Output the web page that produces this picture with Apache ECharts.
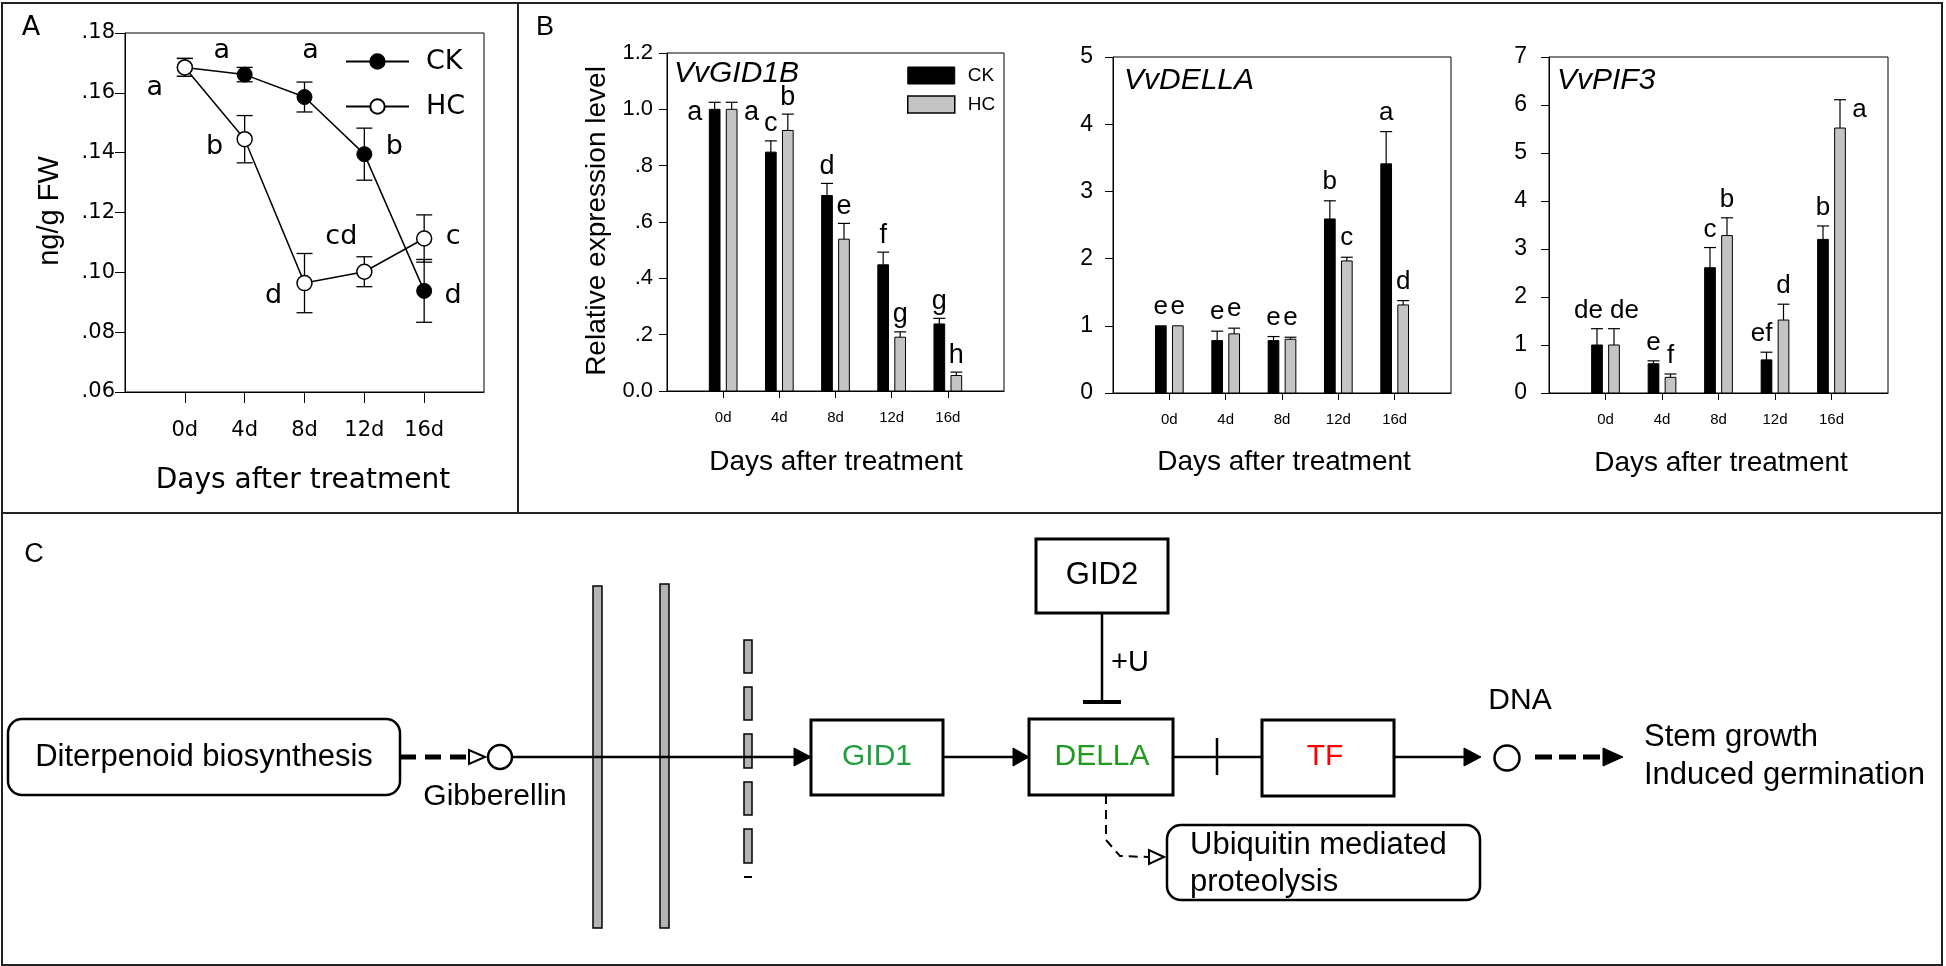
<!DOCTYPE html>
<html><head><meta charset="utf-8">
<script src="https://cdn.jsdelivr.net/npm/echarts@6/dist/echarts.min.js"></script>
<style>html,body{margin:0;padding:0;background:#fff;}#c{width:1946px;height:966px;}</style>
</head><body><div id="c"></div>
<script>
// ---------------- data ----------------
const days = ['0d', '4d', '8d', '12d', '16d'];
const xCats = [''].concat(days, ['']);

// Panel A: GA content (ng/g FW)
const gaCK = [0.1685, 0.1661, 0.1586, 0.1395, 0.0938];
const gaCKErr = [0.003, 0.0024, 0.005, 0.0087, 0.0105];
const gaCKLetters = ['', 'a', 'a', 'b', 'd'];
const gaHC = [0.1685, 0.1445, 0.0964, 0.1002, 0.1113];
const gaHCErr = [0.003, 0.0079, 0.0099, 0.005, 0.0079];
const gaHCLetters = ['a', 'b', 'd', 'cd', 'c'];

// Panel B: relative expression
const gid1bCK = [1.0, 0.848, 0.694, 0.448, 0.238];
const gid1bCKErr = [0.025, 0.04, 0.043, 0.045, 0.02];
const gid1bCKLetters = ['a', 'c', 'd', 'f', 'g'];
const gid1bHC = [1.0, 0.925, 0.539, 0.191, 0.055];
const gid1bHCErr = [0.025, 0.058, 0.056, 0.019, 0.012];
const gid1bHCLetters = ['a', 'b', 'e', 'g', 'h'];

const dellaCK = [1.0, 0.78, 0.78, 2.59, 3.41];
const dellaCKErr = [0, 0.14, 0.06, 0.27, 0.48];
const dellaCKLetters = ['e', 'e', 'e', 'b', 'a'];
const dellaHC = [1.0, 0.88, 0.80, 1.965, 1.31];
const dellaHCErr = [0, 0.085, 0.03, 0.055, 0.065];
const dellaHCLetters = ['e', 'e', 'e', 'c', 'd'];

const pif3CK = [1.0, 0.61, 2.61, 0.69, 3.2];
const pif3CKErr = [0.34, 0.06, 0.42, 0.16, 0.28];
const pif3CKLetters = ['de', 'e', 'c', 'ef', 'b'];
const pif3HC = [1.0, 0.326, 3.28, 1.52, 5.52];
const pif3HCErr = [0.34, 0.07, 0.37, 0.33, 0.59];
const pif3HCLetters = ['de', 'f', 'b', 'd', 'a'];

// ---------------- layout / style ----------------
const FA = 'DejaVu Sans';
const FB = '"Liberation Sans", Arial, sans-serif';
// letter offsets (px) relative to the point, panel A
const letterOffCK = [null, [-23, -22], [6, -44], [30, -5], [29, 7]];
const letterOffHC = [[-30, 23], [-30, 10], [-31, 15], [-23, -33], [29, 0]];
// letter placement in panel B
const placeB1CK = ['left', 'top', 'top', 'top', 'top'];
const placeB1HC = ['right', 'top', 'top', 'top', 'top'];
const placeB3CK = ['topl', 'top', 'top', 'topl', 'top'];
const placeB3HC = ['topr', 'top', 'top', 'top', 'right'];

const tickFn = (i) => i >= 1 && i <= 5;

function xAxisCfg(gi, ff, fs, margin, tickLen) {
  return {
    type: 'category', gridIndex: gi, data: xCats, boundaryGap: false,
    axisLine: { show: true, onZero: false, lineStyle: { color: '#000', width: 1 } },
    axisTick: { show: true, interval: tickFn, length: tickLen, lineStyle: { color: '#000', width: 1 } },
    axisLabel: { show: true, interval: tickFn, margin: margin, color: '#000', fontSize: fs, fontFamily: ff },
    splitLine: { show: false }
  };
}
function yAxisCfg(gi, min, max, interval, fmt, ff, fs, margin, tickLen) {
  return {
    type: 'value', gridIndex: gi, min: min, max: max, interval: interval,
    axisLine: { show: true, lineStyle: { color: '#000', width: 1 } },
    axisTick: { show: true, length: tickLen, lineStyle: { color: '#000', width: 1 } },
    axisLabel: { show: true, formatter: fmt, margin: margin, color: '#000', fontSize: fs, fontFamily: ff },
    splitLine: { show: false }
  };
}

function errSeriesA(vals, errs, letters, offs) {
  return {
    type: 'custom', xAxisIndex: 0, yAxisIndex: 0, z: 1, silent: true,
    data: vals.map((v, i) => [i + 1, v, errs[i]]),
    encode: { x: 0, y: 1 },
    renderItem: function (params, api) {
      const x = api.value(0), v = api.value(1), e = api.value(2);
      const hi = api.coord([x, v + e]), lo = api.coord([x, v - e]), pt = api.coord([x, v]);
      const cw = 8, st = { stroke: '#000', lineWidth: 1.3 };
      const ch = [
        { type: 'line', shape: { x1: hi[0], y1: hi[1], x2: lo[0], y2: lo[1] }, style: st },
        { type: 'line', shape: { x1: hi[0] - cw, y1: hi[1], x2: hi[0] + cw, y2: hi[1] }, style: st },
        { type: 'line', shape: { x1: lo[0] - cw, y1: lo[1], x2: lo[0] + cw, y2: lo[1] }, style: st }
      ];
      const o = offs[params.dataIndex];
      if (o && letters[params.dataIndex]) {
        ch.push({ type: 'text', z2: 5, style: { text: letters[params.dataIndex], x: pt[0] + o[0], y: pt[1] + o[1] - 2,
          align: 'center', verticalAlign: 'middle', fontSize: 27, fontFamily: FA, fill: '#000' } });
      }
      return { type: 'group', children: ch };
    }
  };
}

function barSeries(name, gi, vals, errs, letters, side, fill, place, fs, gap) {
  return {
    type: 'custom', name: name, xAxisIndex: gi, yAxisIndex: gi, silent: true,
    itemStyle: { color: fill, borderColor: '#000', borderWidth: 1 },
    data: vals.map((v, i) => [i + 1, v, errs[i]]),
    encode: { x: 0, y: 1 },
    renderItem: function (params, api) {
      const x = api.value(0), v = api.value(1), e = api.value(2);
      const base = api.coord([x, 0]), top = api.coord([x, v]), cap = api.coord([x, v + e]);
      const w = 10.7, cx = base[0] + side * 8.5, cw = 6;
      const st = { stroke: '#000', lineWidth: 1.2 };
      const ch = [{ type: 'rect', shape: { x: cx - w / 2, y: top[1], width: w, height: base[1] - top[1] },
        style: { fill: fill, stroke: '#000', lineWidth: 1 } }];
      if (e > 0) {
        ch.push({ type: 'line', shape: { x1: cx, y1: top[1], x2: cx, y2: cap[1] }, style: st });
        ch.push({ type: 'line', shape: { x1: cx - cw, y1: cap[1], x2: cx + cw, y2: cap[1] }, style: st });
      }
      const p = place ? place[params.dataIndex] : 'top';
      const t = letters[params.dataIndex];
      let ts;
      if (p === 'left') ts = { x: cx - w / 2 - 7, y: cap[1] + 10, align: 'right' };
      else if (p === 'right') ts = { x: cx + w / 2 + 7, y: cap[1] + 10, align: 'left' };
      else if (p === 'topl') ts = { x: cx + 6, y: cap[1] - gap, align: 'right' };
      else if (p === 'topr') ts = { x: cx - 4, y: cap[1] - gap, align: 'left' };
      else ts = { x: cx, y: cap[1] - gap, align: 'center' };
      ch.push({ type: 'text', style: Object.assign(ts, { text: t, verticalAlign: 'middle', fontSize: fs, fontFamily: FB, fill: '#000' }) });
      return { type: 'group', children: ch };
    }
  };
}

// ---------------- graphic helpers ----------------
function T(text, x, y, fs, opt) {
  opt = opt || {};
  return { type: 'text', x: x, y: y, rotation: opt.rot || 0, z: 10,
    style: { text: text, fontSize: fs, fontFamily: opt.ff || FB, fontStyle: opt.italic ? 'italic' : 'normal',
      fill: opt.color || '#000', align: opt.align || 'center', verticalAlign: 'middle' } };
}
function L(x1, y1, x2, y2, lw, dash) {
  return { type: 'line', z: 10, shape: { x1: x1, y1: y1, x2: x2, y2: y2 },
    style: { stroke: '#000', lineWidth: lw || 2.5, lineDash: dash || null } };
}
function R(x, y, w, h, opt) {
  opt = opt || {};
  return { type: 'rect', z: 10, shape: { x: x, y: y, width: w, height: h, r: opt.r || 0 },
    style: { fill: opt.fill || '#fff', stroke: opt.stroke || '#000', lineWidth: opt.lw || 2.5 } };
}
function P(points, fill, lw) {
  return { type: 'polygon', z: 11, shape: { points: points }, style: { fill: fill, stroke: '#000', lineWidth: lw || 1 } };
}
function C(x, y, r) {
  return { type: 'circle', z: 11, shape: { cx: x, cy: y, r: r }, style: { fill: '#fff', stroke: '#000', lineWidth: 2.5 } };
}

const graphics = [
  // frames
  { type: 'rect', z: 20, shape: { x: 2, y: 3, width: 1940, height: 962 }, style: { fill: 'none', stroke: '#222', lineWidth: 2 } },
  { type: 'line', z: 20, shape: { x1: 518, y1: 3, x2: 518, y2: 513 }, style: { stroke: '#222', lineWidth: 2 } },
  { type: 'line', z: 20, shape: { x1: 2, y1: 513, x2: 1942, y2: 513 }, style: { stroke: '#222', lineWidth: 2 } },
  // panel labels
  T('A', 31, 28, 27, { ff: FA }),
  T('B', 545, 28, 27),
  T('C', 34, 555, 27),
  // axis titles
  T('Days after treatment', 303, 481, 28, { ff: FA }),
  T('ng/g FW', 50, 211, 29, { rot: Math.PI / 2 }),
  T('Relative expression level', 597, 221, 28, { rot: Math.PI / 2 }),
  T('Days after treatment', 836, 462, 28),
  T('Days after treatment', 1284, 462, 28),
  T('Days after treatment', 1721, 463, 28),
  // gene titles
  T('VvGID1B', 674, 74, 30, { italic: true, align: 'left' }),
  T('VvDELLA', 1124, 81, 30, { italic: true, align: 'left' }),
  T('VvPIF3', 1557, 81, 30, { italic: true, align: 'left' }),

  // -------- panel C --------
  R(8, 719, 392, 76, { r: 14 }),
  T('Diterpenoid biosynthesis', 204, 757, 31),
  L(400, 757, 468, 757, 5, [16, 9]),
  P([[485, 757], [469, 750], [469, 764]], '#fff', 2),
  C(500, 757, 12),
  T('Gibberellin', 495, 797, 30),
  // membranes
  R(593, 586, 9, 342, { fill: '#b4b4b4', lw: 1.5 }),
  R(660, 584, 9, 344, { fill: '#b4b4b4', lw: 1.5 }),
  R(744, 640, 8, 33, { fill: '#b4b4b4', lw: 1.5 }),
  R(744, 687, 8, 33, { fill: '#b4b4b4', lw: 1.5 }),
  R(744, 734, 8, 34, { fill: '#b4b4b4', lw: 1.5 }),
  R(744, 782, 8, 33, { fill: '#b4b4b4', lw: 1.5 }),
  R(744, 829, 8, 34, { fill: '#b4b4b4', lw: 1.5 }),
  L(744, 877, 752, 877, 2),
  { type: 'line', z: 12, shape: { x1: 512, y1: 757, x2: 797, y2: 757 }, style: { stroke: '#000', lineWidth: 2.5 } },
  P([[811, 757], [794, 748], [794, 766]], '#000', 1),
  // GID1
  R(811, 720, 132, 75, { lw: 3 }),
  T('GID1', 877, 757, 30, { color: '#22a040' }),
  L(943, 757, 1016, 757, 2.5),
  P([[1029, 757], [1013, 748], [1013, 766]], '#000', 1),
  // GID2
  R(1036, 539, 132, 74, { lw: 3 }),
  T('GID2', 1102, 575, 31),
  L(1102, 613, 1102, 702, 2.5),
  L(1083, 702, 1121, 702, 4),
  T('+U', 1130, 663, 29),
  // DELLA
  R(1029, 719, 144, 76, { lw: 3 }),
  T('DELLA', 1102, 757, 30, { color: '#1f9a1f' }),
  L(1173, 757, 1262, 757, 2.5),
  L(1217, 738, 1217, 775, 2.5),
  // TF
  R(1262, 720, 132, 76, { lw: 3 }),
  T('TF', 1325, 757, 30, { color: '#ff0000' }),
  L(1394, 757, 1466, 757, 2.5),
  P([[1481, 757], [1464, 748], [1464, 766]], '#000', 1),
  C(1507, 758, 12.5),
  T('DNA', 1520, 701, 30),
  L(1535, 757, 1604, 757, 5, [17, 7]),
  P([[1623, 757], [1603, 748], [1603, 766]], '#000', 1),
  T('Stem growth', 1644, 737, 31, { align: 'left' }),
  T('Induced germination', 1644, 775, 31, { align: 'left' }),
  // DELLA -> ubiquitin
  { type: 'polyline', z: 10, shape: { points: [[1106, 795], [1106, 840], [1120, 856], [1148, 857]] },
    style: { stroke: '#000', lineWidth: 2, fill: 'none', lineDash: [9, 6] } },
  P([[1164, 857], [1149, 850], [1149, 864]], '#fff', 2),
  R(1167, 825, 313, 75, { r: 14 }),
  T('Ubiquitin mediated', 1190, 845, 31, { align: 'left' }),
  T('proteolysis', 1190, 882, 31, { align: 'left' })
];

const option = {
  animation: false,
  backgroundColor: '#fff',
  grid: [
    { left: 125, top: 33, width: 359, height: 359, show: true, borderColor: '#000', borderWidth: 1, containLabel: false, outerBoundsMode: 'none' },
    { left: 667, top: 53, width: 337, height: 338, show: true, borderColor: '#000', borderWidth: 1, containLabel: false, outerBoundsMode: 'none' },
    { left: 1113, top: 57, width: 338, height: 336, show: true, borderColor: '#000', borderWidth: 1, containLabel: false, outerBoundsMode: 'none' },
    { left: 1549, top: 57, width: 339, height: 336, show: true, borderColor: '#000', borderWidth: 1, containLabel: false, outerBoundsMode: 'none' }
  ],
  xAxis: [
    xAxisCfg(0, FA, 21, 28, 11),
    xAxisCfg(1, FB, 15, 19, 7),
    xAxisCfg(2, FB, 15, 19, 7),
    xAxisCfg(3, FB, 15, 19, 7)
  ],
  yAxis: [
    yAxisCfg(0, 0.06, 0.18, 0.02, v => v.toFixed(2).replace(/^0/, ''), FA, 21, 10, 10),
    yAxisCfg(1, 0, 1.2, 0.2, v => (v > 0 && v < 1) ? v.toFixed(1).replace(/^0/, '') : v.toFixed(1), FB, 22, 14, 8),
    yAxisCfg(2, 0, 5, 1, v => String(v), FB, 23, 20, 8),
    yAxisCfg(3, 0, 7, 1, v => String(v), FB, 23, 22, 8)
  ],
  legend: [
    { left: 345, top: 48, orient: 'vertical', padding: 0, itemWidth: 63, itemHeight: 18, itemGap: 18, selectedMode: false,
      textStyle: { fontSize: 27, fontFamily: FA, color: '#000', padding: [0, 0, 0, 12] },
      data: ['CK', 'HC'] },
    { left: 907, top: 66, orient: 'vertical', padding: 0, itemWidth: 47, itemHeight: 17, itemGap: 10, selectedMode: false,
      textStyle: { fontSize: 19, fontFamily: FB, color: '#000', padding: [0, 0, 0, 8] },
      data: [
        { name: 'CK ', icon: 'rect', itemStyle: { color: '#000', borderColor: '#000', borderWidth: 1 } },
        { name: 'HC ', icon: 'rect', itemStyle: { color: '#c4c4c4', borderColor: '#000', borderWidth: 1.5 } }
      ] }
  ],
  series: [
    errSeriesA(gaCK, gaCKErr, gaCKLetters, letterOffCK),
    errSeriesA(gaHC, gaHCErr, gaHCLetters, letterOffHC),
    { type: 'line', name: 'CK', xAxisIndex: 0, yAxisIndex: 0, z: 3, silent: true,
      data: gaCK.map((v, i) => [i + 1, v]), symbol: 'circle', symbolSize: 15,
      itemStyle: { color: '#000', borderColor: '#000', borderWidth: 1 }, lineStyle: { color: '#000', width: 1.5 } },
    { type: 'line', name: 'HC', xAxisIndex: 0, yAxisIndex: 0, z: 4, silent: true,
      data: gaHC.map((v, i) => [i + 1, v]), symbol: 'circle', symbolSize: 15,
      itemStyle: { color: '#fff', borderColor: '#000', borderWidth: 1.5 }, lineStyle: { color: '#000', width: 1.5 } },

    barSeries('CK ', 1, gid1bCK, gid1bCKErr, gid1bCKLetters, -1, '#000', placeB1CK, 27, 17),
    barSeries('HC ', 1, gid1bHC, gid1bHCErr, gid1bHCLetters, 1, '#c4c4c4', placeB1HC, 27, 17),
    barSeries('CK (VvDELLA)', 2, dellaCK, dellaCKErr, dellaCKLetters, -1, '#000', null, 26, 19),
    barSeries('HC (VvDELLA)', 2, dellaHC, dellaHCErr, dellaHCLetters, 1, '#c4c4c4', null, 26, 19),
    barSeries('CK (VvPIF3)', 3, pif3CK, pif3CKErr, pif3CKLetters, -1, '#000', placeB3CK, 26, 18),
    barSeries('HC (VvPIF3)', 3, pif3HC, pif3HCErr, pif3HCLetters, 1, '#c4c4c4', placeB3HC, 26, 18)
  ],
  graphic: graphics
};

const chart = echarts.init(document.getElementById('c'), null, { renderer: 'canvas' });
chart.setOption(option);
</script>
</body></html>
